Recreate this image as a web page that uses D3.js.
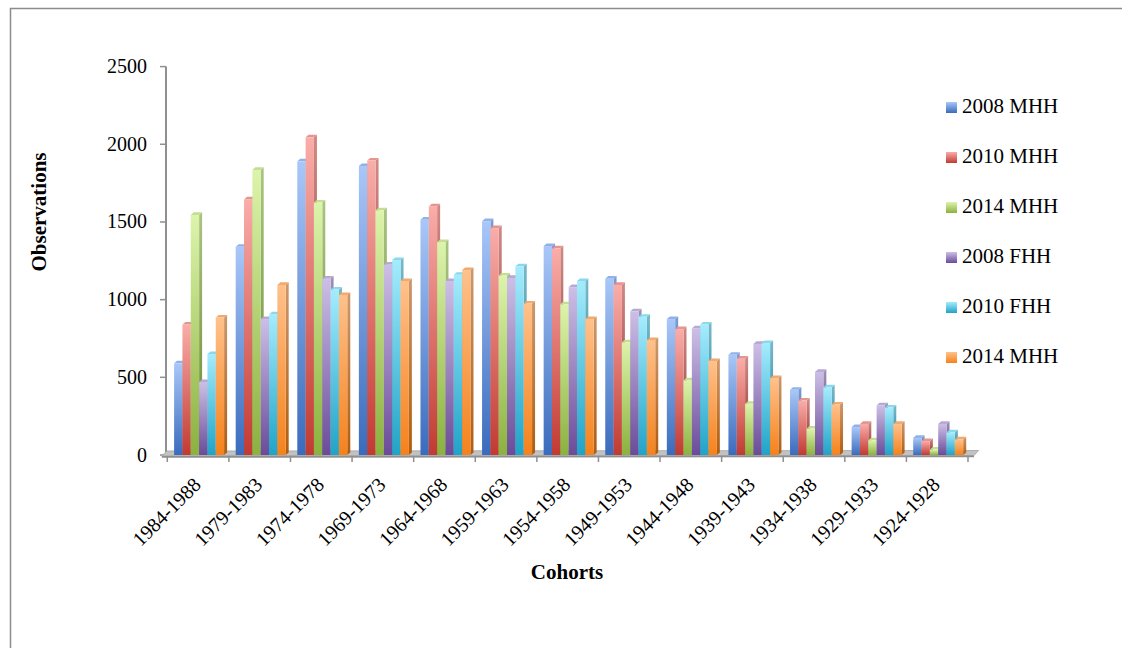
<!DOCTYPE html>
<html>
<head>
<meta charset="utf-8">
<script src="https://cdn.jsdelivr.net/npm/d3@7"></script>
<style>
  html, body { margin: 0; padding: 0; background: #fff; }
  svg { display: block; }
  text { font-family: "Liberation Serif", "Times New Roman", serif; fill: #000; }
</style>
</head>
<body>
<svg id="chart" width="1122" height="648"></svg>
<script>
// Household observations per birth cohort and survey wave
const cohorts = ["1984-1988", "1979-1983", "1974-1978", "1969-1973", "1964-1968", "1959-1963",
                 "1954-1958", "1949-1953", "1944-1948", "1939-1943", "1934-1938", "1929-1933", "1924-1928"];
const seriesNames = ["2008 MHH", "2010 MHH", "2014 MHH", "2008 FHH", "2010 FHH", "2014 MHH"];

const mhh2008 = [590, 1340, 1890, 1860, 1515, 1505, 1345, 1135, 875, 645, 420, 180, 110];
const mhh2010 = [840, 1645, 2045, 1895, 1600, 1460, 1330, 1095, 810, 620, 350, 200, 90];
const mhh2014 = [1545, 1835, 1625, 1575, 1370, 1155, 970, 725, 480, 330, 170, 95, 35];
const fhh2008 = [470, 875, 1135, 1225, 1120, 1140, 1080, 925, 815, 715, 535, 320, 200];
const fhh2010 = [650, 905, 1065, 1255, 1160, 1215, 1120, 890, 840, 720, 435, 305, 145];
const fhh2014 = [885, 1095, 1030, 1120, 1190, 975, 875, 740, 605, 495, 325, 200, 100];

const yTicks = [0, 500, 1000, 1500, 2000, 2500];

const seriesValues = [mhh2008, mhh2010, mhh2014, fhh2008, fhh2010, fhh2014];

// front face (light -> dark), side face (light -> dark), top face
const palette = [
  { fl: "#a9c7f8", fd: "#3a6bbc", sl: "#7c9dd3", sd: "#2b5190", top: "#8fb2ea" },
  { fl: "#faada9", fd: "#c13a32", sl: "#cf8a86", sd: "#8c2a24", top: "#e69490" },
  { fl: "#dcf4ab", fd: "#8bb13f", sl: "#aac482", sd: "#67872c", top: "#c3de90" },
  { fl: "#ccbfe6", fd: "#6a4b99", sl: "#9f91b9", sd: "#4d3670", top: "#b7a8d4" },
  { fl: "#a4ecfd", fd: "#20a3c7", sl: "#78b9ca", sd: "#147894", top: "#89d8ec" },
  { fl: "#ffc18b", fd: "#f5821b", sl: "#cc986c", sd: "#b05c0f", top: "#f3a86c" }
];

const svg = d3.select("#chart");
const W = 1122, H = 648;

// outer frame
svg.append("rect")
  .attr("x", 10.5).attr("y", 8.5)
  .attr("width", W + 20).attr("height", H + 20)
  .attr("fill", "none").attr("stroke", "#8c8c8c").attr("stroke-width", 1.5);

const defs = svg.append("defs");
palette.forEach((p, i) => {
  const gf = defs.append("linearGradient").attr("id", "front" + i)
    .attr("x1", 0).attr("y1", 0).attr("x2", 0).attr("y2", 1);
  gf.append("stop").attr("offset", "0%").attr("stop-color", p.fl);
  gf.append("stop").attr("offset", "100%").attr("stop-color", p.fd);
  const gs = defs.append("linearGradient").attr("id", "side" + i)
    .attr("x1", 0).attr("y1", 0).attr("x2", 0).attr("y2", 1);
  gs.append("stop").attr("offset", "0%").attr("stop-color", p.sl);
  gs.append("stop").attr("offset", "100%").attr("stop-color", p.sd);
});

// scales
const x0 = d3.scaleBand().domain(cohorts).range([167.3, 968]).padding(0);
const x1 = d3.scaleBand().domain(d3.range(seriesNames.length)).range([6.8, 56.8]).padding(0);
const y = d3.scaleLinear().domain([0, 2500]).range([455, 66.6]);

const depthX = 3, depthY = -2.6;

// vertical axis
const axisColor = "#8f8f8f";
svg.append("line")
  .attr("x1", 166).attr("x2", 166)
  .attr("y1", y(2500)).attr("y2", 452)
  .attr("stroke", axisColor).attr("stroke-width", 2);

const yAxisG = svg.append("g");
yAxisG.selectAll("line.tick").data(yTicks).join("line")
  .attr("class", "tick")
  .attr("x1", 160).attr("x2", 166)
  .attr("y1", d => y(d)).attr("y2", d => y(d))
  .attr("stroke", axisColor).attr("stroke-width", 1.5);
yAxisG.selectAll("text").data(yTicks).join("text")
  .attr("x", 147).attr("y", d => y(d) + 6.5)
  .attr("text-anchor", "end")
  .attr("font-size", 20)
  .text(d => d);

// floor slab
const fx0 = x0.range()[0], fx1 = x0.range()[1];
svg.append("polygon")
  .attr("points", [[fx0 - 5.5, 456], [fx1 + 6, 455.5], [fx1 + 10.5, 450.5], [fx0 - 0.5, 451]].map(p => p.join(",")).join(" "))
  .attr("fill", "#c2c2c2").attr("stroke", "#a2a2a2").attr("stroke-width", 0.8);
svg.append("line")
  .attr("x1", fx0 - 5.5).attr("x2", fx1 + 6)
  .attr("y1", 456.8).attr("y2", 456.3)
  .attr("stroke", axisColor).attr("stroke-width", 1.8);

// category ticks at band boundaries
const boundaries = cohorts.map(c => x0(c)).concat([fx1]);
svg.append("g").selectAll("line").data(boundaries).join("line")
  .attr("x1", d => d).attr("x2", d => d)
  .attr("y1", 457).attr("y2", 462)
  .attr("stroke", axisColor).attr("stroke-width", 1.5);

// bars: drawn left to right so each bar hides its neighbour's side face
const bars = [];
cohorts.forEach((c, ci) => {
  seriesValues.forEach((vals, si) => {
    bars.push({ cohort: c, series: si, value: vals[ci] });
  });
});

const barG = svg.append("g");
const bw = x1.bandwidth();
bars.forEach(b => {
  const x = x0(b.cohort) + x1(b.series);
  const yt = y(b.value), yb = y(0);
  const g = barG.append("g");
  // side face
  g.append("polygon")
    .attr("points", [[x + bw, yb], [x + bw, yt], [x + bw + depthX, yt + depthY], [x + bw + depthX, yb + depthY]].map(p => p.join(",")).join(" "))
    .attr("fill", `url(#side${b.series})`);
  // top face
  g.append("polygon")
    .attr("points", [[x, yt], [x + bw, yt], [x + bw + depthX, yt + depthY], [x + depthX, yt + depthY]].map(p => p.join(",")).join(" "))
    .attr("fill", palette[b.series].top);
  // front face
  g.append("rect")
    .attr("x", x).attr("y", yt)
    .attr("width", bw).attr("height", yb - yt)
    .attr("fill", `url(#front${b.series})`);
});

// category labels
svg.append("g").selectAll("text").data(cohorts).join("text")
  .attr("transform", d => `translate(${x0(d) + x0.bandwidth() / 2 + 4},486) rotate(-45)`)
  .attr("text-anchor", "end")
  .attr("font-size", 20)
  .text(d => d);

// axis titles
svg.append("text")
  .attr("transform", "translate(46,212) rotate(-90)")
  .attr("text-anchor", "middle")
  .attr("font-size", 21).attr("font-weight", "bold")
  .text("Observations");
svg.append("text")
  .attr("x", 567).attr("y", 579)
  .attr("text-anchor", "middle")
  .attr("font-size", 21).attr("font-weight", "bold")
  .text("Cohorts");

// legend
const legend = svg.append("g").selectAll("g").data(seriesNames.map((n, i) => ({ n, i }))).join("g")
  .attr("transform", d => `translate(946,${102 + d.i * 50})`);
legend.append("rect")
  .attr("width", 11).attr("height", 11)
  .attr("fill", d => `url(#front${d.i})`);
legend.append("text")
  .attr("x", 16).attr("y", 11)
  .attr("font-size", 21)
  .text(d => d.n);
</script>
</body>
</html>
